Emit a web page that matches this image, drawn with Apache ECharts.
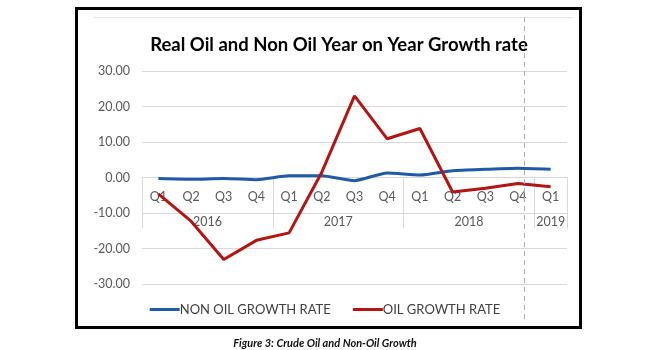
<!DOCTYPE html>
<html>
<head>
<meta charset="utf-8">
<script src="https://cdn.jsdelivr.net/npm/echarts@6/dist/echarts.min.js"></script>
<style>
html, body { margin: 0; padding: 0; background: #fff; }
#container { width: 650px; height: 350px; }
</style>
</head>
<body>
<div id="container"></div>
<script>
// 季度、年份
var quarters = ['Q1', 'Q2', 'Q3', 'Q4', 'Q1', 'Q2', 'Q3', 'Q4', 'Q1', 'Q2', 'Q3', 'Q4', 'Q1'];
var years = ['2016', '2017', '2018', '2019'];
var yearCenters = [2, 6, 10, 12.5];
var yearBounds = [0, 4, 8, 12, 13];

var nonOilGrowth = [-0.3, -0.5, -0.3, -0.6, 0.5, 0.5, -0.9, 1.3, 0.7, 1.9, 2.3, 2.6, 2.3];
var oilGrowth = [-4.6, -12.3, -23.1, -17.7, -15.6, 1.5, 23.0, 10.9, 13.8, -4.1, -3.0, -1.7, -2.6];

var seriesNames = ['NON OIL GROWTH RATE', 'OIL GROWTH RATE'];
var yTicks = [-30, -20, -10, 0, 10, 20, 30];

var font = 'Lato, "Open Sans", sans-serif';
// 零线到底边的距离
var zeroOffset = -106.5;

var dom = document.getElementById("container");
var myChart = echarts.init(dom);
var option = {
	animation: false,
	title: {
		text: 'Real Oil and Non Oil Year on Year Growth rate',
		left: 334,
		top: 31,
		textAlign: 'center',
		textStyle: {
			fontFamily: font,
			fontSize: 18.5,
			fontWeight: 'bold',
			color: '#000'
		}
	},
	legend: {
		bottom: 29,
		left: 'center',
		itemWidth: 30,
		itemHeight: 3,
		itemGap: 22,
		textStyle: {
			fontFamily: font,
			fontSize: 13,
			color: '#404040',
			padding: [0, 0, 0, -5]
		},
		data: [
			{ name: seriesNames[0], icon: 'rect' },
			{ name: seriesNames[1], icon: 'rect' }
		]
	},
	grid: {
		left: 142,
		right: 83,
		top: 71,
		bottom: 66
	},
	xAxis: [
		{
			type: 'category',
			data: quarters,
			boundaryGap: true,
			position: 'bottom',
			offset: zeroOffset,
			axisLine: { onZero: false, lineStyle: { color: '#d9d9d9', width: 1 } },
			axisTick: { show: false },
			axisLabel: {
				interval: 0,
				margin: 13,
				fontFamily: font,
				fontSize: 12.5,
				color: '#595959'
			}
		},
		{
			type: 'value',
			min: 0,
			max: 13,
			position: 'bottom',
			offset: zeroOffset,
			axisLine: { show: false, onZero: false },
			splitLine: { show: false },
			axisTick: {
				show: true,
				length: 51,
				customValues: yearBounds,
				lineStyle: { color: '#d9d9d9', width: 1 }
			},
			axisLabel: {
				margin: 38,
				customValues: yearCenters,
				formatter: function (v) {
					return years[yearCenters.indexOf(v)];
				},
				fontFamily: font,
				fontSize: 12.5,
				color: '#595959'
			}
		}
	],
	yAxis: {
		type: 'value',
		min: yTicks[0],
		max: yTicks[yTicks.length - 1],
		interval: 10,
		axisLine: { show: false, onZero: false },
		axisTick: { show: false },
		splitLine: { lineStyle: { color: '#d9d9d9', width: 1 } },
		axisLabel: {
			margin: 12,
			fontFamily: font,
			fontSize: 12.5,
			color: '#595959',
			formatter: function (v) { return v.toFixed(2); }
		}
	},
	series: [
		{
			name: seriesNames[0],
			type: 'line',
			data: nonOilGrowth,
			symbol: 'none',
			smooth: 0.2,
			lineStyle: { color: '#1f5aa8', width: 3 },
			itemStyle: { color: '#1f5aa8' },
			z: 3
		},
		{
			name: seriesNames[1],
			type: 'line',
			data: oilGrowth,
			symbol: 'none',
			lineStyle: { color: '#b31515', width: 3 },
			itemStyle: { color: '#b31515' },
			z: 4
		}
	],
	graphic: [
		{
			type: 'rect',
			shape: { x: 76.5, y: 8.5, width: 504, height: 319 },
			style: { fill: 'none', stroke: '#000', lineWidth: 3 },
			z: 10
		},
		{
			type: 'line',
			shape: { x1: 93, y1: 17.5, x2: 573, y2: 17.5 },
			style: { stroke: '#e6e6e6', lineWidth: 1 },
			z: 10
		},
		{
			type: 'line',
			shape: { x1: 524.5, y1: 17, x2: 524.5, y2: 322 },
			style: { stroke: '#b0b0b0', lineWidth: 1, lineDash: [5, 4] },
			z: 10
		},
		{
			type: 'text',
			left: 'center',
			top: 338,
			style: {
				text: 'Figure 3: Crude Oil and Non-Oil Growth',
				fontFamily: font,
				fontSize: 11,
				fontWeight: 'bold',
				fontStyle: 'italic',
				fill: '#111'
			}
		}
	]
};
myChart.setOption(option, true);
</script>
</body>
</html>
